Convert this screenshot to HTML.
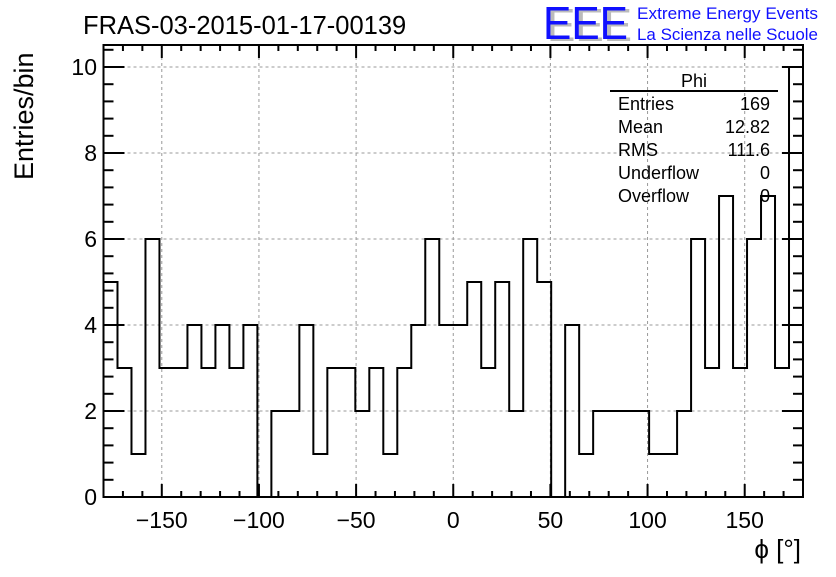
<!DOCTYPE html>
<html><head><meta charset="utf-8"><style>
body{margin:0;background:#fff;}
svg text{font-family:"Liberation Sans",sans-serif;}
</style></head><body>
<svg id="chart" width="836" height="572" xmlns="http://www.w3.org/2000/svg">
<rect width="836" height="572" fill="#fff"/>
<text x="83" y="34" font-size="25.5">FRAS-03-2015-01-17-00139</text>
<g>
<text x="547" y="41" font-size="46" fill="#bbb" textLength="85" lengthAdjust="spacingAndGlyphs">EEE</text>
<text x="543" y="39" font-size="46" fill="#1010ff" textLength="85" lengthAdjust="spacingAndGlyphs">EEE</text>
<text x="637" y="19" font-size="16.5" fill="#1010ff" textLength="181" lengthAdjust="spacingAndGlyphs">Extreme Energy Events</text>
<text x="637" y="40" font-size="16.5" fill="#1010ff" textLength="181" lengthAdjust="spacingAndGlyphs">La Scienza nelle Scuole</text>
</g>
<g id="grid"></g>
<g id="axes"></g>
<path id="hist" fill="none" stroke="#000" stroke-width="2"/>
<rect x="103.5" y="45" width="699.5" height="452" fill="none" stroke="#000" stroke-width="2"/>
<g font-size="18">
<text x="694" y="87" text-anchor="middle">Phi</text>
<line x1="610" y1="91" x2="778" y2="91" stroke="#000" stroke-width="2"/>
<text x="618" y="110">Entries</text><text x="770" y="110" text-anchor="end">169</text>
<text x="618" y="133">Mean</text><text x="770" y="133" text-anchor="end">12.82</text>
<text x="618" y="156">RMS</text><text x="770" y="156" text-anchor="end">111.6</text>
<text x="618" y="179">Underflow</text><text x="770" y="179" text-anchor="end">0</text>
<text x="618" y="202">Overflow</text><text x="770" y="202" text-anchor="end">0</text>
</g>
<text x="801" y="558" font-size="26" text-anchor="end">ϕ [°]</text>
<text transform="translate(33,180) rotate(-90)" font-size="27">Entries/bin</text>
</svg>
<script>
const counts=[5,3,1,6,3,3,4,3,4,3,4,0,2,2,4,1,3,3,2,3,1,3,4,6,4,4,5,3,5,2,6,5,0,4,1,2,2,2,2,1,1,2,6,3,7,3,6,7,3,10];
const xMin=-180, xMax=180;
const xTicks=[-150,-100,-50,0,50,100,150];
const yTicks=[0,2,4,6,8,10];
const L=103.5,R=803,B=497,T=45;
const X=v=>L+(v-xMin)/(xMax-xMin)*(R-L);
const Y=v=>B-v*43;
const NS="http://www.w3.org/2000/svg";
const grid=document.getElementById('grid'),axes=document.getElementById('axes');
function ln(p,x1,y1,x2,y2,dash,w){const l=document.createElementNS(NS,'line');l.setAttribute('x1',x1);l.setAttribute('y1',y1);l.setAttribute('x2',x2);l.setAttribute('y2',y2);l.setAttribute('stroke',dash?'#999':'#000');l.setAttribute('stroke-width',w||1);if(dash)l.setAttribute('stroke-dasharray','3,3');p.appendChild(l);return l;}
function tx(x,y,s,anchor){const t=document.createElementNS(NS,'text');t.setAttribute('x',x);t.setAttribute('y',y);t.setAttribute('font-size','23');t.setAttribute('text-anchor',anchor);t.textContent=s;axes.appendChild(t);return t;}
xTicks.forEach(v=>{const g=ln(grid,X(v),T,X(v),B,true);


ln(axes,X(v),B,X(v),B-13,false,2);ln(axes,X(v),T,X(v),T+13,false,2);
const t=tx(X(v),528,(v<0?'\u2212'+(-v):''+v),'middle');

});
for(let v=-170;v<180;v+=10){if(v%50===0)continue;ln(axes,X(v),B,X(v),B-6,false,2);ln(axes,X(v),T,X(v),T+6,false,2);}
yTicks.forEach(v=>{if(v>0){const g=ln(grid,L,Y(v),R,Y(v),true);

}
ln(axes,L,Y(v),L+21,Y(v),false,2);ln(axes,R,Y(v),R-21,Y(v),false,2);
const t=tx(97,Y(v)+8,''+v,'end');

});
for(let v=0.4;v<10.5;v+=0.4){if(Math.abs(v/2-Math.round(v/2))<0.01)continue;ln(axes,L,Y(v),L+10,Y(v),false,2);ln(axes,R,Y(v),R-10,Y(v),false,2);}
const w=(xMax-xMin)/counts.length;
let d='M'+X(xMin)+','+Y(0);
counts.forEach((c,i)=>{d+=' L'+X(xMin+i*w)+','+Y(c)+' L'+X(xMin+(i+1)*w)+','+Y(c);});
d+=' L'+X(xMax)+','+Y(0);
document.getElementById('hist').setAttribute('d',d);
</script>
</body></html>
